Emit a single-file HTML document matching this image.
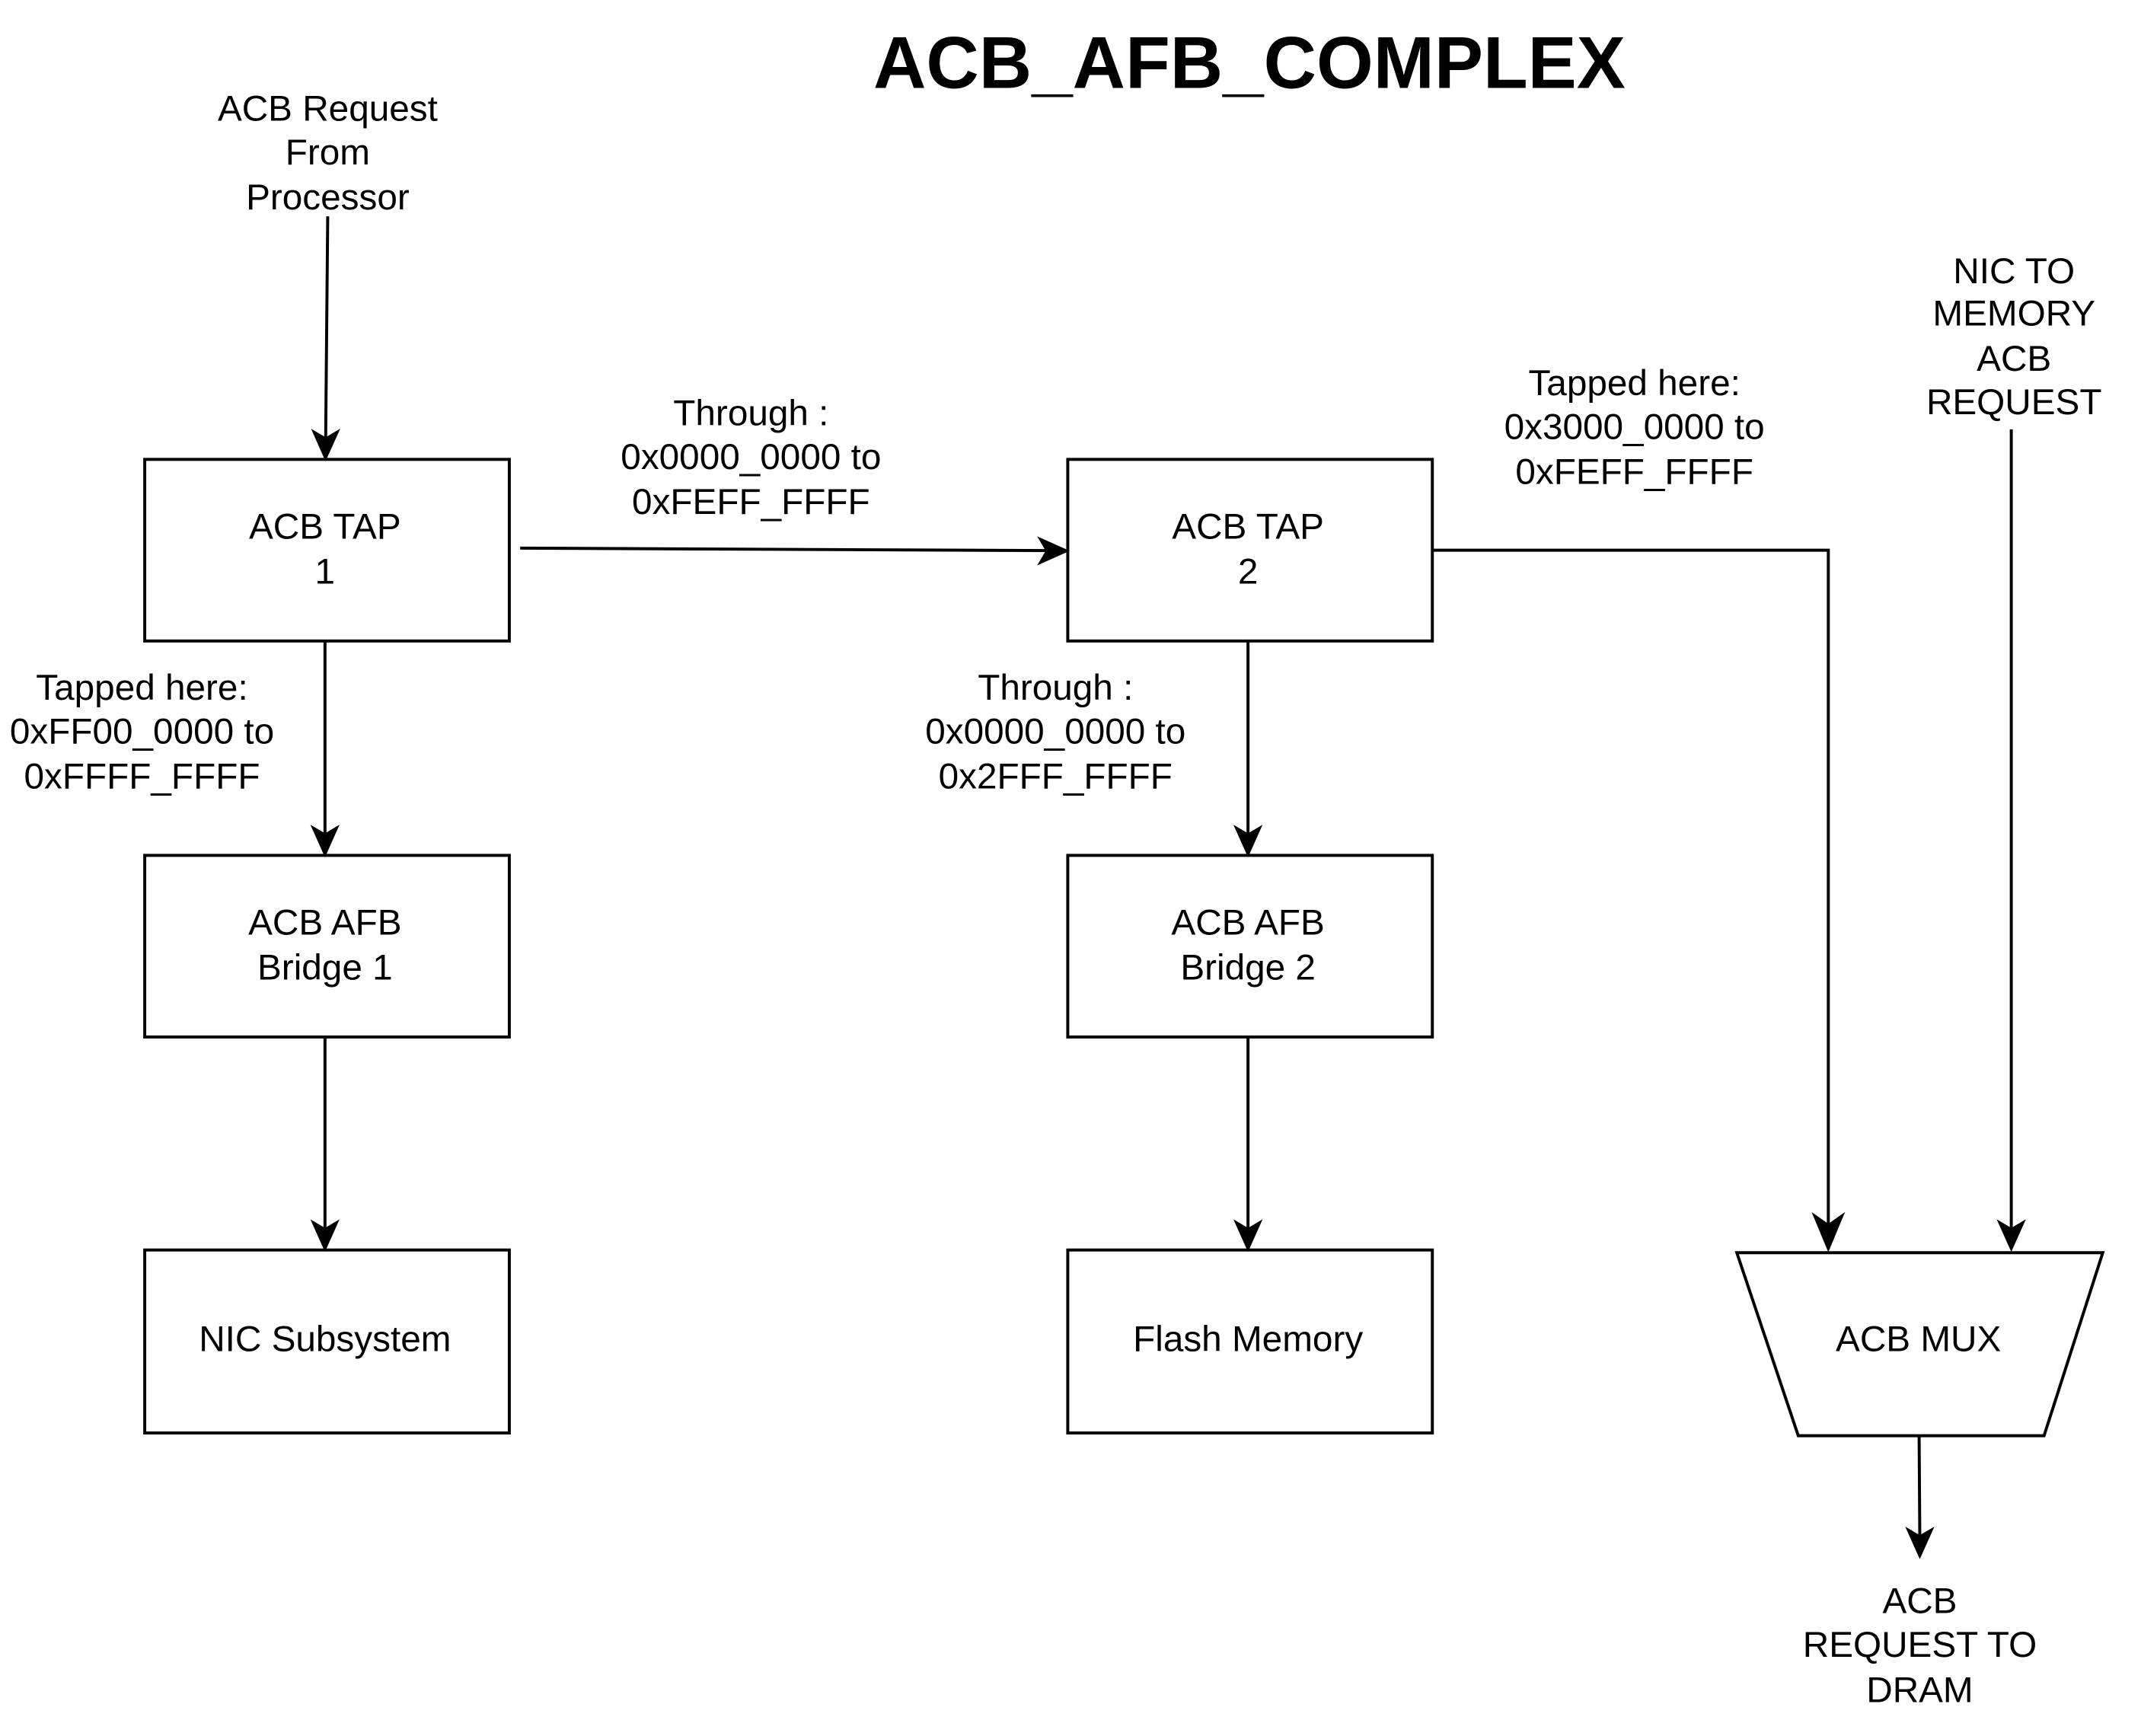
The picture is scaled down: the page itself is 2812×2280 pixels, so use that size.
<!DOCTYPE html>
<html><head><meta charset="utf-8"><style>
html,body{margin:0;padding:0;background:#fff;}
svg{display:block;}
text{font-family:"Liberation Sans",Arial,sans-serif;font-size:26.6px;fill:#000;text-anchor:middle;}
</style></head><body>
<svg width="2812" height="2280" viewBox="0 0 1568 1270.5" xmlns="http://www.w3.org/2000/svg">
<g fill="none" stroke="#000" stroke-width="2.2">
<rect x="106" y="336" width="267" height="133"/>
<rect x="782" y="336" width="267" height="133"/>
<rect x="106" y="626" width="267" height="133"/>
<rect x="782" y="626" width="267" height="133"/>
<rect x="106" y="915" width="267" height="134"/>
<rect x="782" y="915" width="267" height="134"/>
<polygon points="1272,917 1540,917 1497,1051 1317,1051"/>
<line x1="240" y1="158" x2="238.5" y2="322"/>
<line x1="238" y1="469" x2="238" y2="612"/>
<line x1="238" y1="759" x2="238" y2="901"/>
<line x1="381" y1="401" x2="768" y2="402.8"/>
<line x1="914" y1="469" x2="914" y2="612"/>
<line x1="914" y1="759" x2="914" y2="901"/>
<polyline points="1049,402.5 1339,402.5 1339,899"/>
<line x1="1473" y1="314" x2="1473" y2="901"/>
<line x1="1405.5" y1="1051" x2="1406" y2="1126"/>
</g>
<g fill="#000" stroke="#000" stroke-width="2" stroke-linejoin="miter">
<polygon points="238.4,335 230,316 238.5,321 247,316"/>
<polygon points="238,625 229.5,606 238,611 246.5,606"/>
<polygon points="238,914 229.5,895 238,900 246.5,895"/>
<polygon points="781,403 762,394.5 767,403 762,411.5"/>
<polygon points="914,625 905.5,606 914,611 922.5,606"/>
<polygon points="914,914 905.5,895 914,900 922.5,895"/>
<polygon points="1339,914 1329,890 1339,897 1349,890"/>
<polygon points="1473,914 1464.5,895 1473,900 1481.5,895"/>
<polygon points="1406,1139 1397.5,1120 1406,1125 1414.5,1120"/>
</g>
<text x="915" y="64" style="font-size:53.6px;font-weight:bold">ACB_AFB_COMPLEX</text>
<text x="240" y="88">ACB Request</text>
<text x="240" y="120">From</text>
<text x="240" y="153">Processor</text>
<text x="238" y="394">ACB TAP</text>
<text x="238" y="427">1</text>
<text x="914" y="394">ACB TAP</text>
<text x="914" y="427">2</text>
<text x="238" y="684">ACB AFB</text>
<text x="238" y="717">Bridge 1</text>
<text x="914" y="684">ACB AFB</text>
<text x="914" y="717">Bridge 2</text>
<text x="238" y="989">NIC Subsystem</text>
<text x="914" y="989">Flash Memory</text>
<text x="1405" y="989">ACB MUX</text>
<text x="550" y="311">Through :</text>
<text x="550" y="343">0x0000_0000 to</text>
<text x="550" y="376">0xFEFF_FFFF</text>
<text x="104" y="512">Tapped here:</text>
<text x="104" y="544">0xFF00_0000 to</text>
<text x="104" y="577">0xFFFF_FFFF</text>
<text x="773" y="512">Through :</text>
<text x="773" y="544">0x0000_0000 to</text>
<text x="773" y="577">0x2FFF_FFFF</text>
<text x="1197" y="289">Tapped here:</text>
<text x="1197" y="321">0x3000_0000 to</text>
<text x="1197" y="354">0xFEFF_FFFF</text>
<text x="1475" y="207">NIC TO</text>
<text x="1475" y="238">MEMORY</text>
<text x="1475" y="271">ACB</text>
<text x="1475" y="303">REQUEST</text>
<text x="1406" y="1181">ACB</text>
<text x="1406" y="1213">REQUEST TO</text>
<text x="1406" y="1246">DRAM</text>
</svg>
</body></html>
